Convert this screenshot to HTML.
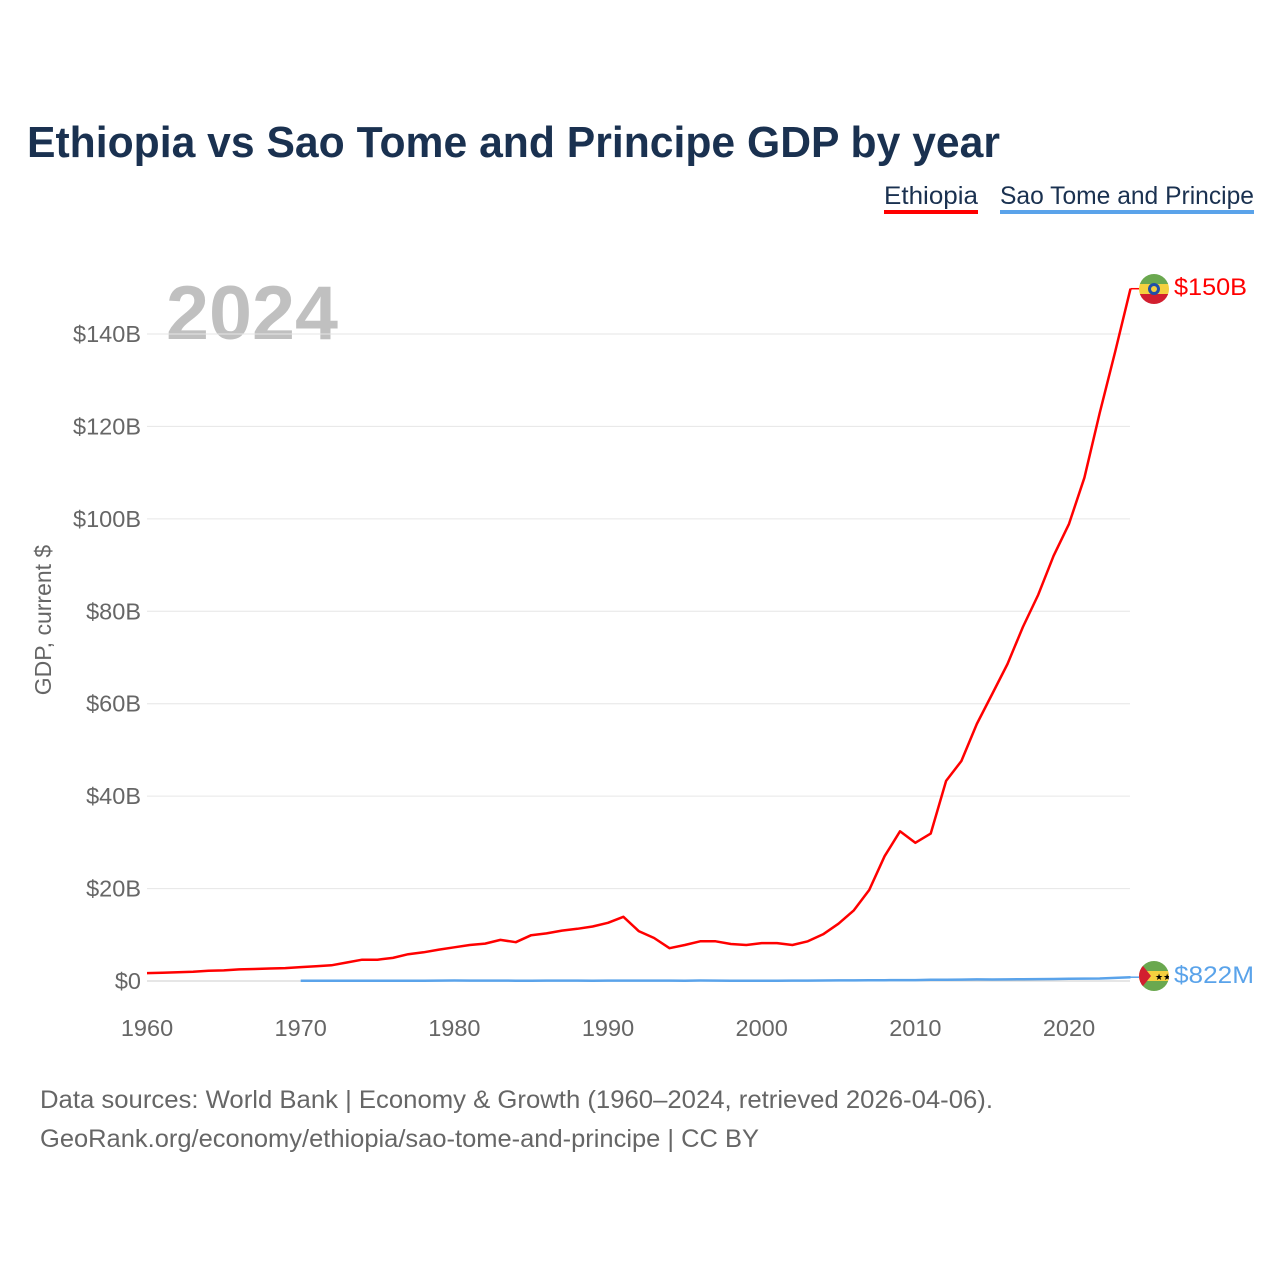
<!DOCTYPE html>
<html><head><meta charset="utf-8"><style>
body{margin:0;background:#fff;width:1280px;height:1280px;overflow:hidden;font-family:"Liberation Sans",sans-serif}
</style></head><body>
<svg width="1280" height="1280" xmlns="http://www.w3.org/2000/svg" font-family="Liberation Sans, sans-serif">
<defs>
<clipPath id="c1"><circle cx="1154" cy="289" r="15"/></clipPath>
<clipPath id="c2"><circle cx="1154" cy="976" r="15"/></clipPath>
</defs>
<text x="27" y="157" font-size="44" font-weight="bold" fill="#1a3150" textLength="973" lengthAdjust="spacingAndGlyphs">Ethiopia vs Sao Tome and Principe GDP by year</text>
<g>
<text x="884" y="204" font-size="25" fill="#1a3150" textLength="94" lengthAdjust="spacingAndGlyphs">Ethiopia</text>
<rect x="884" y="210" width="94" height="4" fill="#ff0000"/></g>
<g>
<text x="1000" y="204" font-size="25" fill="#1a3150" textLength="254" lengthAdjust="spacingAndGlyphs">Sao Tome and Principe</text>
<rect x="1000" y="210" width="254" height="4" fill="#5aa3ea"/></g>
<text x="166" y="339" font-size="76" font-weight="bold" fill="#c0c0c0" textLength="172" lengthAdjust="spacingAndGlyphs">2024</text>
<g id="grid"></g><g id="yt"></g><g id="xt"></g>
<text transform="translate(51,620) rotate(-90)" font-size="23" fill="#666" text-anchor="middle">GDP, current $</text>
<g id="series"></g>
<g clip-path="url(#c1)">
<rect x="1139" y="274" width="30" height="10" fill="#6aa84f"/><rect x="1139" y="284" width="30" height="10" fill="#f4d03f"/><rect x="1139" y="294" width="30" height="10" fill="#d21f2f"/>
<circle cx="1154" cy="289" r="6" fill="#1f4fa8"/><circle cx="1154" cy="289" r="3" fill="#f4d03f"/></g>
<g clip-path="url(#c2)">
<rect x="1139" y="961" width="30" height="10" fill="#6aa84f"/><rect x="1139" y="971" width="30" height="10" fill="#f4d03f"/><rect x="1139" y="981" width="30" height="10" fill="#6aa84f"/>
<polygon points="1139,961 1151,976 1139,991" fill="#d21f2f"/>
<text x="1155" y="980" font-size="9" fill="#000">★★</text></g>
<text x="1174" y="295" font-size="24" fill="#ff0000" textLength="73" lengthAdjust="spacingAndGlyphs">$150B</text>
<text x="1174" y="983" font-size="24" fill="#5aa3ea" textLength="80" lengthAdjust="spacingAndGlyphs">$822M</text>
<text x="40" y="1108" font-size="25" fill="#666" textLength="953" lengthAdjust="spacingAndGlyphs">Data sources: World Bank | Economy &amp; Growth (1960–2024, retrieved 2026-04-06).</text>
<text x="40" y="1147" font-size="25" fill="#666" textLength="719" lengthAdjust="spacingAndGlyphs">GeoRank.org/economy/ethiopia/sao-tome-and-principe | CC BY</text>
</svg>
<script>
const yTicks=[0,20,40,60,80,100,120,140];
const xTicks=[1960,1970,1980,1990,2000,2010,2020];
const ethYears=[];for(let y=1960;y<=2024;y++)ethYears.push(y);
const ethiopia=[1.7,1.8,1.9,2.0,2.2,2.3,2.5,2.6,2.7,2.8,3.0,3.2,3.4,4.0,4.6,4.6,5.0,5.8,6.2,6.8,7.3,7.8,8.1,8.9,8.4,9.9,10.3,10.9,11.3,11.8,12.6,13.9,10.8,9.3,7.1,7.8,8.6,8.6,8.0,7.8,8.2,8.2,7.8,8.6,10.1,12.4,15.3,19.7,27.0,32.4,29.9,31.9,43.3,47.6,55.6,62.1,68.6,76.6,83.6,92.0,98.9,108.9,122.9,136.1,149.8];
const stpYears=[];for(let y=1970;y<=2024;y++)stpYears.push(y);
const saoTome=[0.05,0.05,0.05,0.05,0.06,0.06,0.06,0.06,0.07,0.08,0.1,0.09,0.08,0.08,0.07,0.07,0.08,0.08,0.08,0.07,0.09,0.09,0.08,0.09,0.08,0.07,0.1,0.08,0.06,0.07,0.07,0.07,0.08,0.09,0.1,0.12,0.13,0.15,0.18,0.19,0.2,0.25,0.28,0.31,0.35,0.32,0.34,0.38,0.42,0.43,0.48,0.53,0.55,0.68,0.822];
const NS="http://www.w3.org/2000/svg";
const X=yr=>147+(yr-1960)*(1069-147)/60;
const Y=v=>981-v*(981-334)/140;
function mk(t,a,p){const e=document.createElementNS(NS,t);for(const k in a)e.setAttribute(k,a[k]);document.getElementById(p).appendChild(e);return e;}
yTicks.forEach(v=>{
 const l=mk('line',{x1:147,x2:1130,y1:Y(v),y2:Y(v),stroke:v===0?'#ccc':'#e6e6e6','stroke-width':1},'grid');
 
 
 const t=mk('text',{x:141,y:Y(v)+8,'font-size':23.5,fill:'#666','text-anchor':'end'},'yt');
 t.textContent='$'+v+(v?'B':'');
 
 
});
xTicks.forEach(v=>{
 const t=mk('text',{x:X(v),y:1036,'font-size':23.5,fill:'#666','text-anchor':'middle'},'xt');
 t.textContent=v;
 
 
});
function line(xs,vs,col,name){
 const d=xs.map((x,i)=>(i?'L':'M')+X(x).toFixed(1)+','+Y(vs[i]).toFixed(1)).join('');
 const p=mk('path',{d:d,fill:'none',stroke:col,'stroke-width':2.5,'stroke-linejoin':'round'},'series');
 
 
 const lx=X(xs[xs.length-1]),ly=Y(vs[vs.length-1]);
 const c=mk('line',{x1:lx,x2:1139,y1:ly,y2:ly,stroke:col,'stroke-width':1.5},'series');
 
 
}
line(stpYears,saoTome,'#5aa3ea','sao-tome-line');
line(ethYears,ethiopia,'#ff0000','ethiopia-line');
</script>
</body></html>
